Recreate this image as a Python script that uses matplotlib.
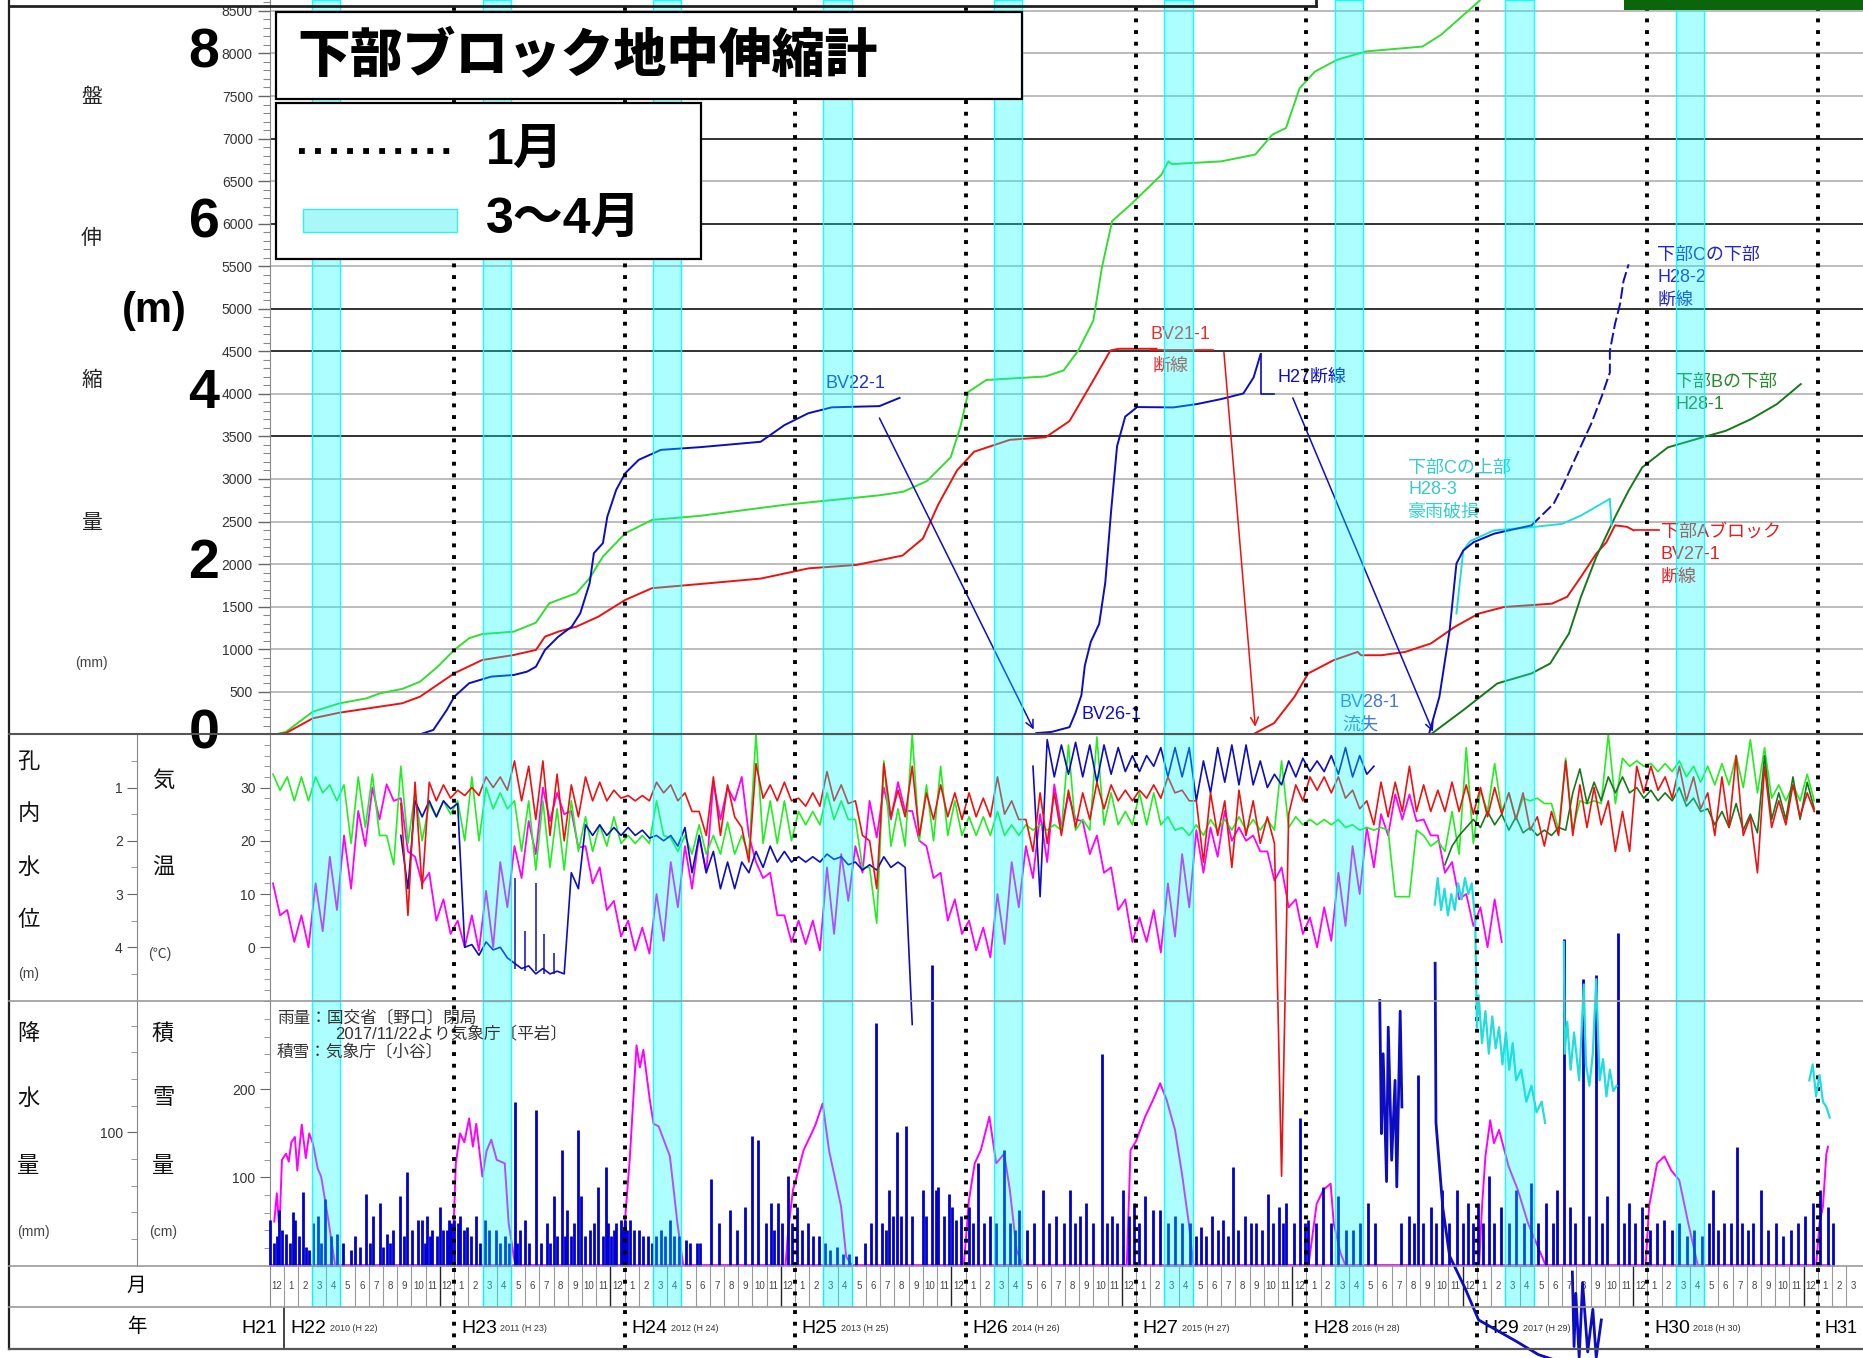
import numpy as np
import matplotlib
matplotlib.use('Agg')
import matplotlib.pyplot as plt
from matplotlib.lines import Line2D
from matplotlib.patches import Rectangle
from matplotlib.transforms import blended_transform_factory

plt.rcParams['font.family'] = ['Liberation Sans', 'Noto Sans CJK JP', 'DejaVu Sans']

# ------------------------------------------------------------------ data
# top panel: ground extensometer displacement (mm), (decimal year, mm)
bv21_x = [2009.963, 2010.014, 2010.171, 2010.328, 2010.564, 2010.695, 2010.80, 2011.001, 2011.165, 2011.35,
          2011.48, 2011.533, 2011.611, 2011.717, 2011.846, 2012.004, 2012.161, 2012.444, 2012.8, 2013.08,
          2013.36, 2013.63, 2013.75, 2013.84, 2013.95, 2014.05, 2014.26, 2014.47, 2014.61, 2014.75,
          2014.85, 2014.9, 2015.12]
bv21_y = [0, 15, 188, 254, 325, 364, 442, 717, 873, 932,
          991, 1147, 1206, 1265, 1382, 1579, 1717, 1766, 1830, 1950,
          1990, 2100, 2300, 2700, 3100, 3320, 3460, 3490, 3680, 4160,
          4510, 4530, 4530]

bv22_x = [2010.80, 2010.878, 2010.957, 2011.001, 2011.088, 2011.218, 2011.35, 2011.428, 2011.48, 2011.533,
          2011.611, 2011.69, 2011.74, 2011.795, 2011.82, 2011.873, 2011.899, 2011.951, 2012.004, 2012.083,
          2012.213, 2012.444, 2012.798, 2012.937, 2013.077, 2013.216, 2013.495, 2013.613]
bv22_y = [0, 51, 286, 442, 600, 678, 697, 736, 795, 991,
          1147, 1265, 1422, 1775, 2129, 2246, 2559, 2873, 3068, 3225,
          3342, 3374, 3437, 3632, 3772, 3842, 3856, 3953]

grn_x = [2009.955, 2010.014, 2010.171, 2010.328, 2010.485, 2010.564, 2010.695, 2010.80, 2010.904, 2011.001,
         2011.088, 2011.165, 2011.35, 2011.48, 2011.558, 2011.717, 2011.795, 2011.873, 2012.004, 2012.161,
         2012.444, 2012.937, 2013.216, 2013.495, 2013.634, 2013.774, 2013.913, 2013.969, 2014.017, 2014.122,
         2014.47, 2014.575, 2014.66, 2014.75, 2014.80, 2014.86, 2014.97, 2015.15, 2015.19, 2015.21,
         2015.50, 2015.70, 2015.80, 2015.88, 2015.96, 2016.05, 2016.18, 2016.35, 2016.68, 2016.79,
         2017.01, 2017.05]
grn_y = [0, 29, 266, 364, 422, 481, 533, 618, 795, 991,
         1129, 1178, 1206, 1312, 1539, 1658, 1834, 2088, 2362, 2519,
         2567, 2696, 2752, 2808, 2850, 2976, 3255, 3604, 4023, 4163,
         4205, 4275, 4505, 4861, 5483, 6030, 6226, 6576, 6732, 6700,
         6732, 6812, 7046, 7124, 7592, 7787, 7926, 8024, 8081, 8219,
         8609, 8700]

bv26_x = [2014.415, 2014.505, 2014.61, 2014.645, 2014.68, 2014.70, 2014.735, 2014.784, 2014.82, 2014.854,
          2014.889, 2014.937, 2015.007, 2015.22, 2015.36, 2015.50, 2015.63, 2015.69, 2015.731]
bv26_y = [14, 28, 84, 251, 460, 808, 1087, 1296, 1784, 2619,
          3385, 3733, 3845, 3841, 3881, 3939, 4005, 4193, 4466]

bv27_x = [2015.70, 2015.81, 2015.93, 2016.01, 2016.16, 2016.30, 2016.32, 2016.44, 2016.58, 2016.73,
          2016.87, 2017.01, 2017.16, 2017.44, 2017.53, 2017.61, 2017.70, 2017.76, 2017.81, 2017.88,
          2017.92]
bv27_y = [14, 131, 441, 715, 871, 968, 929, 929, 968, 1067,
          1262, 1418, 1496, 1535, 1616, 1849, 2122, 2257, 2455, 2438,
          2396]

h282_x = [2016.72, 2016.78, 2016.84, 2016.88, 2016.92, 2016.98, 2017.10, 2017.32, 2017.45, 2017.50,
          2017.58, 2017.67, 2017.73, 2017.78, 2017.78, 2017.81, 2017.84, 2017.86, 2017.89]
h282_y = [11, 441, 1223, 2006, 2159, 2257, 2357, 2455, 2708, 2903,
          3255, 3646, 3959, 4251, 4505, 4820, 5057, 5325, 5522]

h283_x = [2016.88, 2016.92, 2016.96, 2017.10, 2017.32, 2017.50, 2017.61, 2017.78, 2017.79]
h283_y = [1420, 2159, 2270, 2396, 2433, 2473, 2570, 2767, 2456]

h281_x = [2016.73, 2016.92, 2017.12, 2017.32, 2017.43, 2017.54, 2017.61, 2017.70, 2017.81, 2017.89,
          2017.97, 2018.12, 2018.29, 2018.46, 2018.61, 2018.76, 2018.90]
h281_y = [0, 284, 598, 715, 832, 1184, 1613, 2083, 2551, 2864,
          3137, 3371, 3470, 3566, 3705, 3880, 4115]

# middle panel: semi-monthly samples (alternating envelope readings)
temp_start = (2009, 12)      # air temperature (deg C)
temp_vals = [12, 6, 7, 1, 6, 0, 12, 3, 17, 7, 21, 11, 25.6, 19, 30, 24, 30.6, 27.5, 28, 18, 17, 12, 14, 5, 9, 2.5,
             5, 0, 6, -0.6, 10.6, 0, 16, 7.5, 19, 13, 23.7, 17.5, 30, 23.7, 29, 25, 25.6, 18.7, 19, 12, 15, 7, 8.7, 2,
             5, -0.6, 3.7, -1.2, 10, 1.2, 16, 7.5, 19, 11, 21, 14, 31, 24, 30, 27.5, 32, 21, 16, 13, 14, 6, 6, 1,
             5, 0.6, 5, -0.6, 15, 2.5, 17.5, 8.7, 19, 14, 27.5, 20.6, 30, 24, 31, 25.6, 25.6, 20, 19, 13, 14, 5, 9, 2.5,
             5, -0.6, 3.7, -1.9, 10, 0.6, 16, 7.5, 19, 13, 25, 16, 30.6, 22.5, 28.7, 24, 23.7, 17.5, 21, 14, 15, 7, 9, 1,
             5.6, 1, 7, -1, 12, 2, 17.5, 7.5, 22, 14, 22.5, 17, 25.6, 20, 22.5, 20, 21, 18, 18, 12.5, 15, 7.5, 9, 2.5,
             5.6, 0, 7.5, 1.2, 14, 4, 19, 10, 22.5, 15, 25, 21, 28.7, 24, 28.7, 23.7, 24, 21, 21, 14, 16, 9, 10, 4,
             7.5, 0, 9, 1]

grn_wl_start = (2009, 12)    # borehole water level (m)
grn_wl_vals = [0.75, 1.05,
               0.8, 1.25, 0.8, 1.25, 0.8, 1.1, 0.95, 1.25, 0.95, 2.05, 0.8, 1.75, 0.75, 1.9, 1.9, 2.45, 0.6, 2.05, 1.1, 2.0, 1.3, 1.55, 1.25, 1.5,
               1.25, 2.0, 0.8, 2.0, 1.0, 1.4, 1.1, 1.4, 1.25, 2.2, 1.25, 2.55, 1.25, 2.5, 1.4, 2.55, 1.25, 2.2, 1.55, 2.2, 1.7, 2.1, 1.55, 2.05,
               1.9, 2.05, 1.9, 2.05, 1.25, 1.9, 1.95, 2.2, 1.9, 2.25, 1.7, 2.25, 1.9, 2.25, 1.65, 2.25, 1.9, 2.25, 0.0, 2.05, 1.25, 2.05, 1.25, 2.0,
               1.45, 1.7, 1.45, 1.7, 1.1, 1.6, 1.25, 1.6, 1.6, 2.5, 2.5, 3.55, 0.5, 2.1, 1.4, 2.1, 0.0, 2.0, 0.95, 2.0, 0.6, 1.9, 1.25, 1.9,
               1.55, 1.9, 1.55, 1.9, 1.45, 1.9, 1.7, 1.9, 1.7, 1.8, 1.7, 1.8, 1.7, 1.8, 0.2, 1.8, 1.6, 1.8, 0.05, 1.7, 1.1, 1.7, 1.45, 1.7,
               1.1, 1.7, 1.1, 1.7, 1.55, 1.8, 1.75, 1.9, 1.7, 1.9, 1.6, 1.8, 1.6, 1.8, 1.55, 1.8, 1.6, 1.8, 1.6, 1.8, 0.5, 1.75, 1.55, 1.7,
               1.6, 1.7, 1.6, 1.7, 1.6, 1.75, 1.7, 1.8, 1.75, 1.8, 1.75, 1.8, 3.05, 3.05, 3.05, 1.8, 1.9, 2.1, 2.0, 2.2, 1.45, 2.25, 0.25, 2.05,
               1.05, 1.45, 0.55, 1.45, 1.1, 1.6, 1.2, 1.25, 1.2, 1.3, 1.3, 1.8, 0.45, 1.8, 1.25, 1.3, 1.25, 1.3, 0.0, 1.3, 0.45, 0.6, 0.5, 0.6,
               0.55, 0.7, 0.55, 0.7, 0.5, 0.8, 0.6, 0.9, 0.6, 0.95, 0.55, 0.95, 0.4, 1.0, 0.1, 1.1, 0.25, 1.2, 0.95, 1.25, 0.95, 1.25, 0.75, 1.25]

red_wl_start = (2010, 9)
red_wl_vals = [1.3, 3.4, 0.9, 2.9, 0.9, 1.25, 0.95, 1.2,
               1.05, 1.15, 1.0, 1.15, 0.8, 1.0, 0.8, 1.05, 0.5, 1.25, 0.6, 1.6, 0.5, 1.9, 0.75, 2.0, 0.95, 1.55, 0.8, 1.25, 0.9, 1.25, 1.05, 1.2,
               1.15, 1.25, 1.15, 1.25, 0.9, 1.1, 0.95, 1.25, 1.1, 1.45, 1.45, 1.9, 0.8, 1.9, 0.95, 1.55, 1.75, 2.4, 0.55, 1.2, 0.95, 1.25, 0.9, 1.25,
               1.2, 1.35, 1.1, 1.35, 0.7, 1.25, 0.95, 1.3, 1.25, 1.9, 2.0, 2.9, 0.55, 1.55, 1.05, 1.55, 0.6, 1.9, 1.1, 1.6, 0.95, 1.55, 1.1, 1.6,
               1.1, 1.55, 1.2, 1.55, 0.8, 1.5, 1.25, 1.6, 1.6, 2.2, 1.1, 2.05, 1.1, 1.9, 1.05, 1.75, 1.1, 1.6, 0.9, 1.4, 0.95, 1.25, 1.05, 1.25,
               1.05, 1.2, 0.95, 1.2, 0.8, 1.1, 1.05, 1.25, 1.25, 2.4, 1.1, 1.9, 1.25, 2.5, 1.05, 1.9, 1.25, 2.05, 1.55, 2.05, 8.3, 1.5, 0.95, 1.25,
               0.8, 1.05, 0.8, 1.1, 0.8, 1.2, 1.05, 1.4, 1.25, 1.7, 0.9, 1.55, 0.9, 1.45, 0.6, 1.45, 0.95, 1.45, 1.05, 1.45, 0.9, 1.45, 0.95, 1.5,
               1.0, 1.55, 1.0, 1.5, 1.1, 1.6, 1.1, 1.8, 1.55, 2.1, 1.45, 1.9, 0.5, 1.9, 0.95, 1.75, 1.0, 1.7, 1.25, 2.2, 1.45, 2.2, 0.6, 1.1,
               0.6, 1.05, 0.8, 1.2, 0.6, 1.25, 0.8, 1.4, 1.1, 1.9, 0.8, 1.75, 0.4, 1.9, 1.55, 2.6, 0.6, 1.75, 1.25, 1.7, 0.95, 1.55, 1.1, 1.45]

blue_wl_start = (2010, 9)
blue_wl_vals = [1.9, 2.9, 1.25, 1.55, 1.25, 1.55, 1.25, 1.4,
                1.3, 4.0, 3.95, 4.15, 3.9, 4.05, 4.0, 4.2, 4.3, 4.4, 4.35, 4.5, 4.4, 4.5, 4.45, 4.5, 2.6, 2.9, 1.7, 1.9, 1.7, 1.9, 1.75, 1.9,
                1.75, 1.9, 1.8, 1.95, 1.9, 2.0, 1.9, 2.1, 1.75, 2.6, 1.9, 2.6, 2.2, 2.9, 2.4, 2.9, 2.4, 2.6, 2.2, 2.5, 2.1, 2.4, 2.2, 2.4,
                2.3, 2.4, 2.3, 2.4, 2.25, 2.35, 2.3, 2.45, 2.4, 2.55, 2.45, 2.55, 2.3, 2.5, 2.4, 2.5, 5.45]
# short upward spikes of the deep blue reading in 2011 (year, base m, tip m)
blue_spk_x = [2011.359, 2011.418, 2011.48, 2011.525, 2011.584]
blue_spk_b = [4.4, 4.45, 4.45, 4.5, 4.5]
blue_spk_t = [2.7, 3.7, 2.8, 3.75, 4.1]

blue2_wl_start = (2014, 5)
blue2_wl_vals = [np.nan, 0.6, 3.05, 0.1, 0.8, 0.2, 0.75, 0.15, 0.8, 0.2, 0.9, 0.2, 0.75, 0.25, 0.7, 0.4,
                 0.7, 0.4, 0.6, 0.25, 0.8, 0.25, 0.8, 0.25, 1.25, 0.5, 1.1, 0.25, 0.9, 0.2, 0.95, 0.2, 0.95, 0.5, 1.0, 0.75, 0.95, 0.5, 0.8, 0.45,
                 0.7, 0.5, 0.7, 0.4, 0.75, 0.25, 0.8, 0.4, 0.75, 0.6]

dkg_wl_start = (2016, 10)
dkg_wl_vals = [np.nan, 2.45, 2.1, 1.9, 1.75, 1.6,
               1.75, 1.45, 1.7, 1.5, 1.8, 1.55, 1.85, 1.75, 1.9, 1.8, 1.9, 1.75, 1.8, 1.1, 0.65, 1.3, 0.9, 1.25, 0.8, 1.1, 0.8, 1.1, 1.0, 1.2,
               1.05, 1.25, 1.1, 1.25, 1.0, 1.35, 1.2, 1.45, 1.4, 1.7, 1.45, 1.75, 1.3, 1.8, 1.5, 1.85, 0.4, 1.6, 1.1, 1.6, 0.8, 1.6, 0.9, 1.4]

# deep water-level readings that leave the panel (year, m)
blue3_x = [2016.43, 2016.44, 2016.45, 2016.47, 2016.48, 2016.50, 2016.52, 2016.53, 2016.55, 2016.56]
blue3_y = [5.0, 7.5, 6.0, 8.4, 5.5, 8.0, 6.5, 8.5, 5.2, 7.0]
blue4_x = [2016.755, 2016.76, 2016.80, 2016.84, 2016.93, 2017.01, 2017.23, 2017.36, 2017.5]
blue4_y = [4.3, 7.3, 8.9, 9.8, 10.4, 11.0, 11.4, 11.65, 11.8]
blue5_x = [2017.56, 2017.57, 2017.58, 2017.60, 2017.62, 2017.65, 2017.68, 2017.70, 2017.73]
blue5_y = [10.1, 11.5, 10.5, 11.7, 10.3, 11.6, 10.8, 11.7, 11.0]
cyan_x = [2016.753, 2016.77, 2016.79, 2016.81, 2016.83, 2016.85, 2016.87, 2016.89, 2016.91, 2016.93, 2016.95, 2016.97, 2016.99,
          2017.0, 2017.01, 2017.03, 2017.05, 2017.07, 2017.09, 2017.11, 2017.13, 2017.15, 2017.17, 2017.19, 2017.21, 2017.23,
          2017.26, 2017.29, 2017.32, 2017.35, 2017.38, 2017.40]
cyan_y = [3.2, 2.7, 3.3, 2.9, 3.4, 3.0, 3.3, 2.8, 3.1, 2.7, 3.0, 2.8, 3.5,
          5.5, 4.9, 5.8, 5.2, 6.0, 5.3, 5.9, 5.5, 6.2, 5.6, 6.3, 5.8, 6.5,
          6.3, 6.9, 6.6, 7.1, 6.9, 7.3]
cyan2_x = [2017.51, 2017.515, 2017.53, 2017.55, 2017.57, 2017.60, 2017.627, 2017.64, 2017.66, 2017.68, 2017.70, 2017.72,
           2017.74, 2017.76, 2017.78, 2017.80, 2017.82]
cyan2_y = [3.9, 6.0, 5.4, 6.3, 5.6, 6.5, 4.7, 6.2, 6.6, 6.0, 4.6, 6.5, 6.1, 6.8, 6.3, 6.7, 6.6]
cyan3_x = [2018.95, 2018.97, 2018.99, 2019.01, 2019.03, 2019.05, 2019.07]
cyan3_y = [6.5, 6.2, 6.8, 6.4, 6.9, 7.0, 7.2]

# bottom panel: snow depth (cm) and daily rainfall (mm)
snow_x = [2009.945, 2009.96, 2009.975, 2009.99, 2010.014, 2010.03, 2010.045, 2010.066, 2010.08, 2010.106, 2010.13, 2010.15,
          2010.171, 2010.2, 2010.22, 2010.262, 2010.302,
          2010.985, 2011.0, 2011.01, 2011.035, 2011.06, 2011.088, 2011.11, 2011.13, 2011.166, 2011.19, 2011.218, 2011.25,
          2011.297, 2011.32, 2011.35, 2011.36,
          2011.985, 2012.004, 2012.03, 2012.07, 2012.09, 2012.11, 2012.148, 2012.17, 2012.2, 2012.266, 2012.31, 2012.344,
          2012.944, 2012.96, 2012.988, 2013.01, 2013.05, 2013.097, 2013.12, 2013.162, 2013.2, 2013.27, 2013.3, 2013.335,
          2013.99, 2014.02, 2014.054, 2014.09, 2014.14, 2014.18, 2014.227, 2014.26, 2014.3, 2014.337,
          2014.946, 2014.968, 2015.0, 2015.054, 2015.1, 2015.142, 2015.18, 2015.229, 2015.27, 2015.31, 2015.337,
          2016.012, 2016.06, 2016.1, 2016.142, 2016.16, 2016.2, 2016.229,
          2017.013, 2017.03, 2017.05, 2017.078, 2017.1, 2017.13, 2017.187, 2017.24, 2017.3, 2017.404,
          2017.99, 2018.01, 2018.057, 2018.1, 2018.14, 2018.187, 2018.24, 2018.296,
          2018.99, 2019.01, 2019.03, 2019.05, 2019.06]
snow_y = [50, 82, 40, 120, 127, 118, 140, 146, 108, 160, 122, 150,
          139, 110, 101, 52, 0,
          0, 60, 116, 150, 140, 167, 135, 161, 101, 130, 143, 120,
          116, 48, 10, 0,
          0, 55, 120, 250, 225, 245, 188, 161, 158, 124, 48, 0,
          0, 40, 86, 101, 131, 150, 160, 184, 130, 67, 10, 0,
          0, 74, 116, 131, 169, 116, 127, 86, 17, 0,
          0, 131, 141, 169, 188, 207, 188, 154, 104, 48, 0,
          0, 70, 86, 93, 48, 14, 0,
          0, 67, 124, 165, 139, 154, 112, 86, 48, 0,
          0, 67, 116, 124, 108, 97, 48, 0,
          0, 48, 67, 127, 135]

rain_x = [2009.922, 2009.941, 2009.962, 2009.975, 2009.993, 2010.014, 2010.035, 2010.053, 2010.067, 2010.088,
          2010.114, 2010.132, 2010.150, 2010.171, 2010.203, 2010.218, 2010.245, 2010.276, 2010.315, 2010.349,
          2010.397, 2010.420, 2010.446, 2010.486, 2010.506, 2010.525, 2010.564, 2010.585, 2010.606, 2010.624,
          2010.643, 2010.682, 2010.708, 2010.726, 2010.755, 2010.787, 2010.813, 2010.831, 2010.839, 2010.857,
          2010.873, 2010.899, 2010.917, 2010.936, 2010.957, 2010.970, 2010.983, 2011.001, 2011.022, 2011.035,
          2011.056, 2011.075, 2011.101, 2011.127, 2011.153, 2011.179, 2011.206, 2011.245, 2011.271, 2011.297,
          2011.323, 2011.355, 2011.371, 2011.389, 2011.415, 2011.441, 2011.481, 2011.507, 2011.546, 2011.564,
          2011.585, 2011.606, 2011.630, 2011.651, 2011.664, 2011.685, 2011.703, 2011.724, 2011.742, 2011.769,
          2011.795, 2011.821, 2011.847, 2011.873, 2011.892, 2011.905, 2011.920, 2011.939, 2011.952, 2011.978,
          2011.991, 2012.004, 2012.017, 2012.030, 2012.057, 2012.083, 2012.109, 2012.135, 2012.161, 2012.187,
          2012.214, 2012.240, 2012.266, 2012.292, 2012.318, 2012.358, 2012.384, 2012.423,
          2012.444, 2012.509, 2012.553, 2012.618, 2012.662, 2012.705, 2012.749, 2012.783, 2012.827, 2012.857,
          2012.879, 2012.901, 2012.923, 2012.957, 2012.984, 2013.010, 2013.040, 2013.075, 2013.105, 2013.140,
          2013.175, 2013.205, 2013.249, 2013.279, 2013.314, 2013.358, 2013.410, 2013.445, 2013.475, 2013.510,
          2013.532, 2013.553, 2013.575, 2013.597, 2013.619, 2013.649, 2013.684, 2013.749, 2013.771, 2013.802,
          2013.828, 2013.836, 2013.871, 2013.902, 2013.923, 2013.945, 2013.976, 2014.019, 2014.045, 2014.076,
          2014.106, 2014.141, 2014.176, 2014.228, 2014.263, 2014.293, 2014.315, 2014.358, 2014.402, 2014.454,
          2014.489, 2014.532, 2014.576, 2014.611, 2014.641, 2014.672, 2014.706, 2014.750, 2014.802, 2014.828,
          2014.859, 2014.889, 2014.924, 2014.959, 2014.989, 2015.020, 2015.055, 2015.098, 2015.142, 2015.185,
          2015.229, 2015.272, 2015.316, 2015.351, 2015.381, 2015.412, 2015.446, 2015.481, 2015.512, 2015.542,
          2015.568, 2015.598, 2015.642, 2015.673, 2015.707, 2015.742, 2015.772, 2015.803, 2015.838, 2015.860,
          2015.881, 2015.925, 2015.960, 2015.990, 2016.012, 2016.055, 2016.099, 2016.142, 2016.186, 2016.230,
          2016.273, 2016.317, 2016.360, 2016.404, 2016.556, 2016.600, 2016.630, 2016.656, 2016.686, 2016.730,
          2016.760, 2016.795, 2016.839, 2016.882, 2016.917, 2016.947, 2016.978, 2017.004, 2017.034, 2017.069,
          2017.100, 2017.143, 2017.186, 2017.230, 2017.274, 2017.317, 2017.361, 2017.404, 2017.448, 2017.470,
          2017.513, 2017.544, 2017.578, 2017.622, 2017.657, 2017.700, 2017.731, 2017.761, 2017.826, 2017.861,
          2017.892, 2017.926, 2017.970, 2018.013, 2018.057, 2018.100, 2018.144, 2018.187, 2018.231, 2018.274,
          2018.318, 2018.362, 2018.383, 2018.414, 2018.448, 2018.492, 2018.527, 2018.557, 2018.588, 2018.622,
          2018.666, 2018.709, 2018.753, 2018.796, 2018.840, 2018.884, 2018.927, 2018.970, 2019.014, 2019.057,
          2019.088]
rain_y = [34, 17, 22, 42, 27, 24, 17, 40, 34, 22,
          55, 14, 12, 32, 37, 17, 50, 22, 24, 17,
          12, 22, 14, 54, 17, 37, 47, 14, 24, 17,
          27, 52, 22, 70, 27, 34, 34, 17, 37, 22,
          27, 22, 44, 27, 27, 34, 32, 34, 32, 37,
          27, 29, 22, 37, 17, 34, 27, 27, 17, 22,
          17, 123, 17, 27, 34, 17, 117, 17, 32, 17,
          52, 22, 87, 22, 42, 22, 32, 102, 52, 22,
          27, 32, 59, 22, 74, 32, 22, 27, 32, 34,
          27, 34, 27, 34, 27, 27, 22, 22, 17, 22,
          27, 22, 34, 22, 22, 19, 17, 17,
          17, 65, 32, 42, 27, 44, 97, 94, 32, 47,
          27, 47, 32, 67, 32, 44, 27, 32, 22, 22,
          17, 12, 14, 9, 9, 7, 17, 32, 182, 32,
          27, 57, 37, 100, 37, 105, 37, 57, 37, 226,
          57, 59, 37, 54, 44, 34, 37, 44, 32, 77,
          32, 37, 32, 87, 32, 27, 42, 27, 32, 57,
          32, 37, 32, 57, 32, 37, 47, 32, 159, 32,
          37, 32, 57, 37, 47, 32, 52, 42, 42, 32,
          37, 32, 32, 22, 29, 22, 37, 27, 34, 22,
          74, 27, 37, 32, 32, 27, 54, 32, 44, 32,
          47, 32, 111, 32, 34, 32, 59, 32, 52, 27,
          27, 32, 47, 32, 32, 37, 32, 143, 32, 44,
          32, 57, 32, 57, 32, 47, 32, 47, 32, 67,
          32, 44, 32, 57, 32, 62, 32, 47, 32, 57,
          245, 44, 32, 215, 37, 218, 32, 52, 250, 32,
          47, 32, 44, 27, 32, 34, 27, 32, 22, 27,
          22, 32, 57, 27, 32, 32, 89, 32, 27, 32,
          57, 27, 32, 22, 27, 32, 37, 47, 57, 44,
          32]

jan_lines = [2011, 2012, 2013, 2014, 2015, 2016, 2017, 2018, 2019]
band_years = [2010, 2011, 2012, 2013, 2014, 2015, 2016, 2017, 2018]
month_labels = ['12'] + [str(m) for m in range(1, 13)] * 9 + ['1', '2', '3']
year_h = ['H22', 'H23', 'H24', 'H25', 'H26', 'H27', 'H28', 'H29', 'H30']
year_ad = ['2010 (H 22)', '2011 (H 23)', '2012 (H 24)', '2013 (H 25)', '2014 (H 26)',
           '2015 (H 27)', '2016 (H 28)', '2017 (H 29)', '2018 (H 30)']

# ------------------------------------------------------------------ colours
RED = '#ee1111'
BLUE = '#0c0cc0'
GREEN = '#33dd33'
DKG = '#17781a'
MAG = '#ff00ff'
CYAN = '#22dddd'
RAIN = '#0000d0'
BAND_FC = (0.0, 1.0, 1.0, 0.32)
BAND_EC = (0.0, 1.0, 1.0, 0.9)

W, H = 1863, 1358
fig = plt.figure(figsize=(W / 100, H / 100), dpi=100)
fig.patch.set_facecolor('white')

L = 269.5
X0, X1 = 2009.917, 2019.265


def rect(top, bottom):
    return [L / W, 1 - bottom / H, 1 - L / W, (bottom - top) / H]


def semi(start, vals):
    y0, m0 = start
    s = y0 + (m0 - 1) / 12
    return s + (np.arange(len(vals)) + 0.5) / 24, np.array(vals, dtype=float)


ax_top = fig.add_axes(rect(0, 734.3), zorder=1)
ax_mid = fig.add_axes(rect(734.3, 1000.5), zorder=2)
ax_bot = fig.add_axes(rect(1000.5, 1265.5), zorder=2)
ax_rain = fig.add_axes(rect(1000.5, 1265.5), zorder=3, sharex=ax_bot)
ax_wl = fig.add_axes(rect(734.3, 1000.5), zorder=4, sharex=ax_mid)
ax_mon = fig.add_axes(rect(1265.5, 1307), zorder=1)
ax_yr = fig.add_axes(rect(1307, 1348.5), zorder=1)

for a in [ax_top, ax_mid, ax_bot, ax_rain, ax_wl, ax_mon, ax_yr]:
    a.patch.set_visible(False)
    a.set_xlim(X0, X1)
    for s in ['top', 'right', 'bottom']:
        a.spines[s].set_visible(False)
    a.spines['left'].set_color('#888888')
    a.tick_params(axis='x', which='both', bottom=False, labelbottom=False)

# ------------------------------------------------------------------ top panel
ax_top.set_ylim(0, 8628)
ax_top.set_yticks(np.arange(500, 8501, 500))
ax_top.set_yticks(np.arange(0, 8601, 100), minor=True)
ax_top.tick_params(axis='y', which='major', length=9, width=1, color='#666666', labelsize=10, pad=3, labelcolor='#333333')
ax_top.tick_params(axis='y', which='minor', length=5, width=0.8, color='#888888')
for lv in np.arange(500, 8501, 500):
    dark = lv in (3500, 4500, 5000, 6000, 7000)
    ax_top.axhline(lv, color='#222222' if dark else '#aaaaaa', lw=1.3 if dark else 1.1, zorder=1)

lw_top = 1.4
ax_top.plot(grn_x, grn_y, color=GREEN, lw=lw_top, zorder=3)
ax_top.plot(bv21_x, bv21_y, color=RED, lw=lw_top, zorder=3)
ax_top.plot(bv22_x, bv22_y, color=BLUE, lw=lw_top, zorder=3)
ax_top.plot(bv26_x, bv26_y, color=BLUE, lw=lw_top, zorder=3)
ax_top.plot(bv27_x, bv27_y, color=RED, lw=lw_top, zorder=3)
ax_top.plot(h281_x, h281_y, color=DKG, lw=lw_top, zorder=3)
ax_top.plot(h283_x, h283_y, color=CYAN, lw=lw_top, zorder=3)
ax_top.plot(h282_x[:8], h282_y[:8], color=BLUE, lw=lw_top, zorder=3)
ax_top.plot(h282_x[7:], h282_y[7:], color=BLUE, lw=lw_top, zorder=3, ls=(0, (6, 2)))

# annotations
arw = dict(arrowstyle='->', lw=1.1, mutation_scale=14, shrinkA=0, shrinkB=0)
ax_top.annotate('', xy=(2014.40, 56), xytext=(2013.495, 3716), arrowprops=dict(color=BLUE, **arw), zorder=3)
ax_top.annotate('', xy=(2015.70, 89), xytext=(2015.516, 4487), arrowprops=dict(color=RED, **arw), zorder=3)
ax_top.annotate('', xy=(2016.742, 31), xytext=(2015.92, 3953), arrowprops=dict(color=BLUE, **arw), zorder=3)
ax_top.plot([2015.731, 2015.731, 2015.81], [4466, 3997, 3997], color=BLUE, lw=1.2, zorder=3)
ax_top.plot([2015.09, 2015.45], [4515, 4515], color=RED, lw=1.2, zorder=3)
ax_top.plot([2017.93, 2018.07], [2396, 2396], color=RED, lw=1.2, zorder=3)

fs_a = 13
def atext(x, y, s, c):
    ax_top.text(x, y, s, color=c, fontsize=fs_a, ha='left', va='center', zorder=4)

atext(2013.181, 4121, 'BV22-1', '#2030d0')
atext(2015.084, 4694, 'BV21-1', '#e03030')
atext(2015.098, 4331, '断線', '#e03030')
atext(2015.829, 4191, 'H27断線', BLUE)
atext(2014.679, 237, 'BV26-1', BLUE)
atext(2016.192, 377, 'BV28-1', '#3f78d8')
atext(2016.213, 112, '流失', '#3f78d8')
atext(2018.059, 5630, '下部Cの下部', '#2424c8')
atext(2018.059, 5364, 'H28-2', '#2424c8')
atext(2018.059, 5099, '断線', '#2424c8')
atext(2018.164, 4135, '下部Bの下部', '#2a8a2a')
atext(2018.164, 3870, 'H28-1', '#2a8a2a')
atext(2016.596, 3129, '下部Cの上部', '#35cccc')
atext(2016.596, 2878, 'H28-3', '#35cccc')
atext(2016.596, 2612, '豪雨破損', '#35cccc')
atext(2018.08, 2375, '下部Aブロック', '#e02020')
atext(2018.08, 2109, 'BV27-1', '#e02020')
atext(2018.08, 1844, '断線', '#e02020')

# big metre labels
btr = blended_transform_factory(fig.transFigure, ax_top.transData)
for v, s in [(8000, '8'), (6000, '6'), (4000, '4'), (2000, '2'), (0, '0')]:
    ax_top.text(204 / W, v, s, transform=btr, fontsize=40, fontweight='bold', ha='center', va='center',
                family=['Liberation Sans', 'DejaVu Sans'], clip_on=False, zorder=20)

# ------------------------------------------------------------------ middle panel
ax_mid.set_ylim(-10, 40)
ax_mid.set_yticks([0, 10, 20, 30])
ax_mid.set_yticks(np.arange(-10, 41, 2), minor=True)
ax_mid.tick_params(axis='y', which='major', length=7, color='#666666', labelsize=10, pad=3, labelcolor='#333333')
ax_mid.tick_params(axis='y', which='minor', length=4, color='#888888')
tx, ty = semi(temp_start, temp_vals)
ax_mid.plot(tx, ty, color=MAG, lw=1.3)

ax_wl.set_ylim(5, 0)
ax_wl.spines['left'].set_position(('axes', (136.6 - L) / (W - L)))
ax_wl.set_yticks([1, 2, 3, 4])
ax_wl.set_yticks(np.arange(0.5, 5.0, 0.5), minor=True)
ax_wl.tick_params(axis='y', which='major', length=7, color='#666666', labelsize=10, pad=3, labelcolor='#333333')
ax_wl.tick_params(axis='y', which='minor', length=4, color='#888888')

lw_m = 1.2
for (st, vals), c in [((grn_wl_start, grn_wl_vals), '#22ee22'),
                      ((blue_wl_start, blue_wl_vals), BLUE),
                      ((blue2_wl_start, blue2_wl_vals), BLUE),
                      ((dkg_wl_start, dkg_wl_vals), DKG),
                      ((red_wl_start, red_wl_vals), RED)]:
    xx, yy = semi(st, vals)
    ax_wl.plot(xx, yy, color=c, lw=lw_m, clip_on=False)
ax_wl.vlines(blue_spk_x, blue_spk_b, blue_spk_t, color=BLUE, lw=1.1)
ax_wl.plot(blue3_x, blue3_y, color=BLUE, lw=2.0, clip_on=False)
ax_wl.plot(blue4_x, blue4_y, color=BLUE, lw=2.0, clip_on=False)
ax_wl.plot(blue5_x, blue5_y, color=BLUE, lw=2.0, clip_on=False)
ax_wl.plot(cyan_x, cyan_y, color=CYAN, lw=1.6, clip_on=False)
ax_wl.plot(cyan2_x, cyan2_y, color=CYAN, lw=1.6, clip_on=False)
ax_wl.plot(cyan3_x, cyan3_y, color=CYAN, lw=1.6, clip_on=False)

# ------------------------------------------------------------------ bottom panel
ax_bot.set_ylim(0, 301)
ax_bot.set_yticks([100, 200])
ax_bot.set_yticks(np.arange(20, 301, 20), minor=True)
ax_bot.tick_params(axis='y', which='major', length=7, color='#666666', labelsize=10, pad=3, labelcolor='#333333')
ax_bot.tick_params(axis='y', which='minor', length=4, color='#888888')
ax_bot.plot(snow_x, snow_y, color=MAG, lw=1.4)
ax_bot.plot([X0, 2019.07], [0.5, 0.5], color=MAG, lw=1.2)

ax_rain.set_ylim(0, 199)
ax_rain.spines['left'].set_position(('axes', (136.6 - L) / (W - L)))
ax_rain.set_yticks([100])
ax_rain.set_yticks(np.arange(20, 200, 20), minor=True)
ax_rain.tick_params(axis='y', which='major', length=7, color='#666666', labelsize=10, pad=3, labelcolor='#333333')
ax_rain.tick_params(axis='y', which='minor', length=4, color='#888888')
ax_rain.vlines(rain_x, 0, rain_y, color=RAIN, lw=2.0, clip_on=False)

# ------------------------------------------------------------------ month / year rows
ax_mon.set_ylim(0, 1)
ax_mon.set_yticks([])
ax_yr.set_ylim(0, 1)
ax_yr.set_yticks([])
ax_yr.spines['left'].set_visible(False)
for i, lab in enumerate(month_labels):
    ms = 2009 + 11 / 12 + i / 12
    ax_mon.axvline(ms, color='#222222' if lab == '12' else '#999999', lw=1.0 if lab == '12' else 0.8, zorder=1)
    ax_mon.text(ms + 1 / 24, 0.5, lab, fontsize=7, ha='center', va='center', color='#444444', zorder=2)
ax_yr.axvline(2010, color='#222222', lw=1.2)
ax_yr.text(2009.962, 0.48, 'H21', fontsize=14, ha='right', va='center')
for i, (h, ad) in enumerate(zip(year_h, year_ad)):
    y0 = 2010 + i
    ax_yr.text(y0 + 0.04, 0.48, h, fontsize=14, ha='left', va='center')
    ax_yr.text(y0 + 0.27, 0.48, ad, fontsize=6.5, ha='left', va='center', color='#333333')
ax_yr.text(2019.04, 0.48, 'H31', fontsize=13, ha='left', va='center')

# ------------------------------------------------------------------ bands and January lines
for a in [ax_top, ax_wl, ax_rain, ax_mon]:
    for yb in band_years:
        a.axvspan(yb + 2 / 12, yb + 4 / 12, facecolor=BAND_FC, edgecolor=BAND_EC, lw=1.0, zorder=8)
for a in [ax_top, ax_wl, ax_rain, ax_mon, ax_yr]:
    for yj in jan_lines:
        a.axvline(yj, color='black', lw=2.8, ls=(0, (1, 2.0)), zorder=9)

# ------------------------------------------------------------------ frame and texts
def fline(x0, y0, x1, y1, c='#888888', lw=1.2, z=5):
    fig.add_artist(Line2D([x0 / W, x1 / W], [1 - y0 / H, 1 - y1 / H], transform=fig.transFigure,
                          color=c, lw=lw, zorder=z))

fline(8.5, 0, 8.5, 1348.5, c='#222222', lw=1.6)
fline(8.5, 734.3, W, 734.3, c='#555555', lw=1.5)
fline(8.5, 1000.5, W, 1000.5, c='#999999', lw=1.2)
fline(8.5, 1265.5, W, 1265.5, c='#999999', lw=1.2)
fline(8.5, 1307, W, 1307, c='#999999', lw=1.2)
fline(8.5, 1348.5, W, 1348.5, c='#555555', lw=1.6)
fline(8.5, 6, 1316, 6, c='#222222', lw=2)
fline(1316, 0, 1316, 6, c='#222222', lw=2)
fig.add_artist(Rectangle((1624 / W, 1 - 9.5 / H), (W - 1624) / W, 9.5 / H, transform=fig.transFigure,
                         facecolor='#0b650b', edgecolor='none', zorder=5))


def ftext(x, y, s, **kw):
    fig.text(x / W, 1 - y / H, s, ha='center', va='center', **kw)

for s, yy in [('盤', 97), ('伸', 238), ('縮', 380), ('量', 523)]:
    ftext(91.5, yy, s, fontsize=15, color='#222222')
ftext(91.5, 663, '(mm)', fontsize=10, color='#444444')
ftext(154, 311, '(m)', fontsize=30, fontweight='bold')
for s, yy in [('孔', 762), ('内', 815), ('水', 868), ('位', 921)]:
    ftext(28.5, yy, s, fontsize=16, color='#111111')
ftext(28.5, 974, '(m)', fontsize=10, color='#444444')
for s, yy in [('気', 781), ('温', 867)]:
    ftext(163, yy, s, fontsize=16, color='#111111')
ftext(160, 954, '(℃)', fontsize=10, color='#444444')
for s, yy in [('降', 1034), ('水', 1099), ('量', 1167)]:
    ftext(28.5, yy, s, fontsize=16, color='#111111')
ftext(33, 1232, '(mm)', fontsize=10, color='#444444')
for s, yy in [('積', 1034), ('雪', 1099), ('量', 1167)]:
    ftext(163, yy, s, fontsize=16, color='#111111')
ftext(163, 1232, '(cm)', fontsize=10, color='#444444')
ftext(136.6, 1286, '月', fontsize=14)
ftext(136.6, 1327, '年', fontsize=14)

fig.text(277 / W, 1 - 1017 / H, '雨量：国交省〔野口〕閉局', fontsize=12, ha='left', va='center', color='#333333', zorder=12)
fig.text(335 / W, 1 - 1034 / H, '2017/11/22より気象庁〔平岩〕', fontsize=12, ha='left', va='center', color='#333333', zorder=12)
fig.text(277 / W, 1 - 1052 / H, '積雪：気象庁〔小谷〕', fontsize=12, ha='left', va='center', color='#333333', zorder=12)

# title & legend boxes
fig.add_artist(Rectangle((275.7 / W, 1 - 98.6 / H), (1021.8 - 275.7) / W, (98.6 - 11.9) / H,
                         transform=fig.transFigure, facecolor='white', edgecolor='black', lw=1.6, zorder=20))
fig.text(297 / W, 1 - 57 / H, '下部ブロック地中伸縮計', fontsize=38, fontweight='heavy', ha='left', va='center', zorder=21)
fig.add_artist(Rectangle((275.7 / W, 1 - 259 / H), (701 - 275.7) / W, (259 - 103.4) / H,
                         transform=fig.transFigure, facecolor='white', edgecolor='black', lw=1.6, zorder=20))
fig.add_artist(Line2D([299 / W, 457 / W], [1 - 151 / H, 1 - 151 / H], transform=fig.transFigure,
                      color='black', lw=4.2, ls=(0, (1, 1.75)), zorder=21))
fig.add_artist(Rectangle((303 / W, 1 - 232 / H), (457 - 303) / W, (232 - 209) / H, transform=fig.transFigure,
                         facecolor='#aaf7f8', edgecolor='#33eeee', lw=1, zorder=21))
fig.text(486 / W, 1 - 151 / H, '1月', fontsize=36, fontweight='bold', ha='left', va='center', zorder=21)
fig.text(486 / W, 1 - 220 / H, '3〜4月', fontsize=36, fontweight='bold', ha='left', va='center', zorder=21)

fig.savefig('out.png', dpi=100, facecolor='white')
